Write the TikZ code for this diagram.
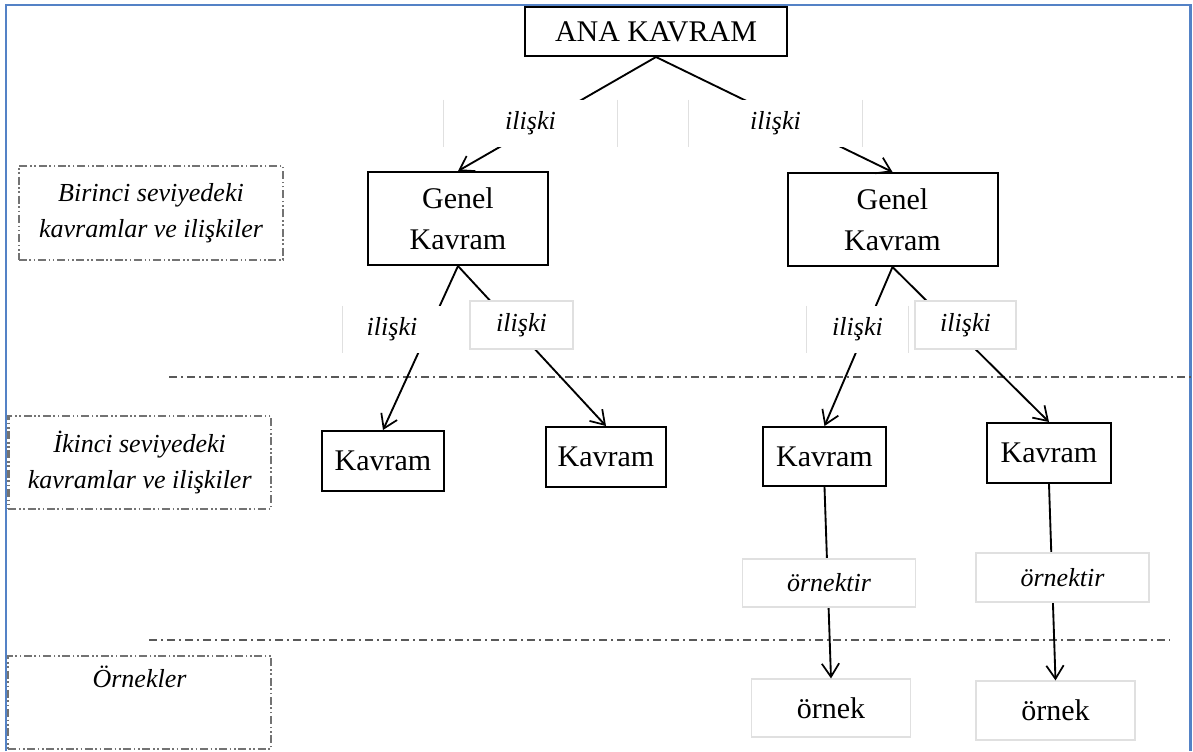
\documentclass[tikz,border=0pt]{standalone}
\usepackage{fontspec}
\setmainfont{Liberation Serif}
\usetikzlibrary{arrows.meta}
\definecolor{frameblue}{RGB}{84,130,198}

\begin{document}
\begin{tikzpicture}[x=0.75pt, y=-0.75pt,
      concept/.style={draw, line width=1.5pt, inner sep=0pt, align=center,
         font=\fontsize{22.5}{31}\selectfont},
      rel/.style={fill=white, inner sep=0pt, font=\fontsize{19.5}{27}\selectfont\itshape},
      faint/.style={draw=black!12, line width=0.9pt},
      level/.style={draw=black!55, line width=1.8pt, inner sep=0pt, align=center,
         dash pattern=on 6pt off 2pt on 1.2pt off 2pt on 1.2pt off 2pt,
         font=\fontsize{19.5}{27}\selectfont\itshape},
      divider/.style={black!65, line width=1.5pt, dash pattern=on 6pt off 3pt on 1.5pt off 3pt},
      arrow/.style={-{Straight Barb[length=10pt,width=13pt,line width=1.3pt]}, line width=1.4pt, black},
      frame/.style={frameblue, line width=1.8pt}
   ]
   \useasboundingbox (0,0) rectangle (1193,751);
   \draw[frame] (6,751) -- (6,5) -- (1190.5,5) -- (1190.5,751);

   % level separators
   \draw[divider] (169,377) -- (1193,377);
   \draw[divider] (149,640) -- (1170,640);

   % level captions
   \node[level, minimum width=198.4pt, minimum height=70.5pt] (lev1) at (151,213)
      {Birinci seviyedeki\\kavramlar ve ilişkiler};
   \node[level, minimum width=197pt, minimum height=69.75pt] (lev2) at (139.7,462.5)
      {İkinci seviyedeki\\kavramlar ve ilişkiler};
   \node[level, minimum width=197.25pt, minimum height=69.75pt,
      label={[rel, fill=none, anchor=north, yshift=-8pt]north:Örnekler}] (lev3) at (139.5,702.5) {};

   % concepts
   \node[concept, minimum width=196.5pt, minimum height=36.75pt] (ana) at (656,31.5) {ANA KAVRAM};
   \node[concept, minimum width=135pt, minimum height=69.75pt] (genel1) at (458,218.5) {Genel\\Kavram};
   \node[concept, minimum width=157.5pt, minimum height=69.75pt] (genel2) at (892.5,219.5) {Genel\\Kavram};
   \node[concept, minimum width=91.5pt, minimum height=45pt] (kavram1) at (383,461) {Kavram};
   \node[concept, minimum width=90pt, minimum height=45pt] (kavram2) at (606,457) {Kavram};
   \node[concept, minimum width=92.25pt, minimum height=44.25pt] (kavram3) at (824.5,456.5) {Kavram};
   \node[concept, minimum width=93pt, minimum height=45pt] (kavram4) at (1049,453) {Kavram};
   \node[concept, faint, minimum width=118.9pt, minimum height=43.5pt] (ornek1) at (831,708) {örnek};
   \node[concept, faint, minimum width=119.25pt, minimum height=44.25pt] (ornek2) at (1055.5,710.5) {örnek};

   \begin{scope}[arrow]
      \draw (ana.south) -- (genel1.north);
      \draw (ana.south) -- (genel2.north);
      \draw (genel1.south) -- (kavram1.north);
      \draw (genel1.south) -- (kavram2.north);
      \draw (genel2.south) -- (kavram3.north);
      \draw (genel2.south) -- (kavram4.north);
      \draw (kavram3.south) -- (ornek1.north);
      \draw (kavram4.south) -- (ornek2.north);
   \end{scope}

   % relation labels
   \node[rel, minimum width=129.75pt, minimum height=35.25pt] (rel1) at (530.5,123.5) {ilişki};
   \node[rel, minimum width=129.75pt, minimum height=35.25pt] (rel2) at (775.5,123.5) {ilişki};
   \node[rel, minimum width=73.5pt, minimum height=35.25pt] (rel3) at (392,329.5) {ilişki};
   \node[rel, faint, minimum width=77.25pt, minimum height=36pt] (rel4) at (521.5,325) {ilişki};
   \node[rel, minimum width=75.75pt, minimum height=35.25pt] (rel5) at (857.5,329.5) {ilişki};
   \node[rel, faint, minimum width=75.75pt, minimum height=36pt] (rel6) at (965.5,325) {ilişki};
   \node[rel, faint, minimum width=129.4pt, minimum height=36pt] (orn1) at (829,583) {örnektir};
   \node[rel, faint, minimum width=129.75pt, minimum height=36.75pt] (orn2) at (1062.5,577.5) {örnektir};

   \draw[faint] (rel1.north west) -- (rel1.south west) (rel1.north east) -- (rel1.south east);
   \draw[faint] (rel2.north west) -- (rel2.south west) (rel2.north east) -- (rel2.south east);
   \draw[faint] (rel3.north west) -- (rel3.south west);
   \draw[faint] (rel5.north west) -- (rel5.south west) (rel5.north east) -- (rel5.south east);
\end{tikzpicture}
\end{document}
